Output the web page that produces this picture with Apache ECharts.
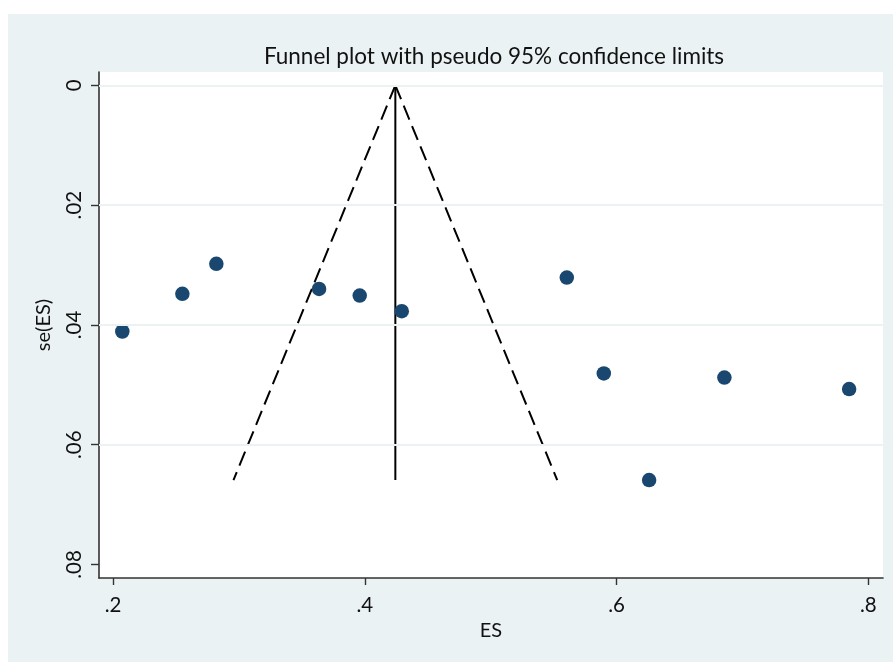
<!DOCTYPE html>
<html>
<head>
<meta charset="utf-8">
<script src="https://cdn.jsdelivr.net/npm/echarts@6/dist/echarts.min.js"></script>
<style>
html,body{margin:0;padding:0;background:#ffffff;}
#chart{width:893px;height:662px;}
</style>
</head>
<body>
<div id="chart"></div>
<script>
// ---- data ----
const titleText = "Funnel plot with pseudo 95% confidence limits";
const xName = "ES";
const yName = "se(ES)";
const xTicks = [0.2, 0.4, 0.6, 0.8];
const yTicks = [0, 0.02, 0.04, 0.06, 0.08];
const yGridTicks = [0, 0.02, 0.04, 0.06];
const studyES = [0.2074, 0.2551, 0.2821, 0.3637, 0.3960, 0.4294, 0.5605, 0.5899, 0.6259, 0.6857, 0.7848];
const studySE = [0.0411, 0.0348, 0.0298, 0.0340, 0.0351, 0.0377, 0.0321, 0.0481, 0.0659, 0.0488, 0.0507];
const pooledES = 0.4243;
const maxSE = 0.0659;
const lowerLimitAtMax = 0.2957;
const upperLimitAtMax = 0.5529;

const fmt = v => {
  if (v === 0) return "0";
  return String(+v.toFixed(2)).replace(/^0/, "");
};

const font = "Lato";
const chart = echarts.init(document.getElementById('chart'), null, {renderer: 'canvas'});

const points = studyES.map((x, i) => [x, studySE[i]]);

chart.setOption({
  animation: false,
  backgroundColor: '#ffffff',
  graphic: [{
    type: 'rect', z: -10, silent: true,
    shape: {x: 8, y: 14, width: 885, height: 648},
    style: {fill: '#EAF2F3'}
  }],
  title: {
    text: titleText,
    left: 489, top: 40, textAlign: 'center',
    textStyle: {fontFamily: font, fontSize: 22.5, fontWeight: 'normal', color: '#111111'}
  },
  grid: {
    left: 99, top: 72, width: 784, height: 506,
    show: true, backgroundColor: '#ffffff', borderWidth: 0
  },
  xAxis: {
    type: 'value', min: 0.18888, max: 0.8117,
    name: xName, nameLocation: 'middle', nameGap: 42,
    nameTextStyle: {fontFamily: font, fontSize: 20, color: '#111111'},
    axisLine: {show: true, onZero: false, lineStyle: {color: '#333333', width: 1.6}},
    axisTick: {show: true, length: 7, customValues: xTicks, lineStyle: {color: '#333333', width: 1.4}},
    axisLabel: {customValues: xTicks, formatter: fmt, margin: 17, fontFamily: font, fontSize: 20.5, color: '#111111'},
    splitLine: {show: false}
  },
  yAxis: {
    type: 'value', inverse: true, min: -0.00222, max: 0.08225,
    name: yName, nameLocation: 'middle', nameGap: 45, nameRotate: 90,
    nameTextStyle: {fontFamily: font, fontSize: 20, color: '#111111'},
    axisLine: {show: true, onZero: false, lineStyle: {color: '#333333', width: 1.6}},
    axisTick: {show: true, length: 8, customValues: yTicks, lineStyle: {color: '#333333', width: 1.4}},
    axisLabel: {customValues: yTicks, formatter: fmt, rotate: 90, margin: 14, fontFamily: font, fontSize: 20.5, color: '#111111'},
    splitLine: {show: false}
  },
  series: [
    {
      type: 'line', data: [], z: 1, silent: true,
      markLine: {
        silent: true, symbol: 'none', animation: false,
        label: {show: false},
        lineStyle: {color: '#EAF2F3', width: 1.8, type: 'solid'},
        data: yGridTicks.map(v => ({yAxis: v}))
      }
    },
    {
      type: 'line', z: 3, silent: true, symbol: 'none',
      data: [[pooledES, 0], [lowerLimitAtMax, maxSE]],
      lineStyle: {color: '#000000', width: 2, type: [15, 7]}
    },
    {
      type: 'line', z: 3, silent: true, symbol: 'none',
      data: [[pooledES, 0], [upperLimitAtMax, maxSE]],
      lineStyle: {color: '#000000', width: 2, type: [15, 7]}
    },
    {
      type: 'line', z: 3, silent: true, symbol: 'none',
      data: [[pooledES, 0], [pooledES, maxSE]],
      lineStyle: {color: '#000000', width: 2}
    },
    {
      type: 'scatter', z: 4, symbol: 'circle', symbolSize: 14.5,
      data: points,
      itemStyle: {color: '#1A476F', opacity: 1}
    }
  ]
});
</script>
</body>
</html>
